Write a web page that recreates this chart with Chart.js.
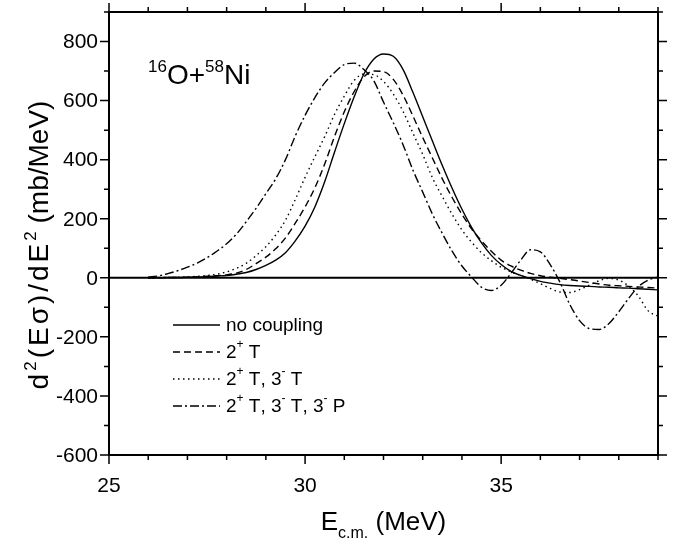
<!DOCTYPE html>
<html>
<head>
<meta charset="utf-8">
<script src="https://cdn.jsdelivr.net/npm/chart.js@4.4.0/dist/chart.umd.min.js"></script>
<style>
html,body{margin:0;padding:0;background:#fff;}
</style>
</head>
<body>
<canvas id="myChart" width="683" height="549"></canvas>
<script>
// E c.m. (MeV)
var energy=[26,26.25,26.5,26.75,27,27.25,27.5,27.75,28,28.25,28.5,28.75,29,29.25,29.5,29.75,
  30,30.25,30.5,30.75,31,31.25,31.5,31.75,32,32.25,32.5,32.75,33,33.25,33.5,33.75,
  34,34.25,34.5,34.75,35,35.25,35.5,35.75,36,36.25,36.5,36.75,37,37.25,37.5,37.75,
  38,38.25,38.5,38.75,39];

// d2(E sigma)/dE2 (mb/MeV)
var noCoupling=[0,0,1,1,2,3,4,6,8,12,18,28,42,60,85,125,
  175,240,325,425,522,612,690,740,758,750,705,628,545,462,380,303,
  232,170,118,76,45,22,8,-3,-12,-18,-23,-26,-28,-29,-31,-32,
  -34,-35,-37,-39,-41];
var twoPlusT=[0,0,1,1,2,3,5,7,10,16,28,48,70,98,135,185,
  240,305,385,478,562,630,680,700,698,672,618,548,475,405,335,272,
  215,165,125,90,60,40,26,15,7,2,-2,-6,-11,-16,-21,-25,
  -27,-29,-31,-33,-35];
var twoPlusThreeT=[0,1,1,2,3,5,8,12,20,32,49,75,105,145,195,265,
  340,410,478,553,615,668,690,688,665,622,563,490,418,338,275,215,
  162,120,85,58,36,20,8,-5,-20,-36,-48,-50,-40,-25,-10,-2,
  -8,-28,-62,-112,-130];
var twoPlusThreeTP=[3,6,14,24,36,50,68,90,115,148,190,235,285,335,400,480,
  550,610,660,695,722,727,705,668,595,525,450,365,290,215,150,90,
  40,2,-32,-43,-25,15,60,95,88,45,-15,-90,-145,-172,-175,-155,
  -115,-70,-30,-8,3];

var seriesNames=['no coupling','2+ T','2+ T, 3- T','2+ T, 3- T, 3- P'];
var xTickLabels=[25,30,35];
var yTickLabels=[-600,-400,-200,0,200,400,600,800];

var fontFam='"Liberation Sans", Arial, Helvetica, sans-serif';

function pts(ys){
  var out=[];
  for(var i=0;i<energy.length;i++) out.push({x:energy[i],y:ys[i]});
  return out;
}

// text with super/subscripts: runs of [text, kind, extraSpacing]
function runFont(r,size){
  return (r[1]=='sup'||r[1]=='sub')?Math.round(size*0.62):size;
}
function drawRuns(c,runs,x,y,size){
  var cx=x;
  for(var i=0;i<runs.length;i++){
    var r=runs[i],fs=runFont(r,size),dy=0,sp=r[2]||0;
    if(r[1]=='sup')dy=-size*0.42;
    if(r[1]=='sub')dy=size*0.3;
    c.font=fs+'px '+fontFam;
    for(var k=0;k<r[0].length;k++){
      c.fillText(r[0][k],cx,y+dy);
      cx+=c.measureText(r[0][k]).width+sp;
    }
  }
  return cx-x;
}
function runsWidth(c,runs,size){
  var w=0;
  for(var i=0;i<runs.length;i++){
    var r=runs[i];
    c.font=runFont(r,size)+'px '+fontFam;
    for(var k=0;k<r[0].length;k++) w+=c.measureText(r[0][k]).width+(r[2]||0);
  }
  return w;
}

var dashes=[[],[7,4],[1.5,3.5],[9,3,2,3]];
var legendRuns=[
  [['no coupling']],
  [['2'],['+','sup'],[' T']],
  [['2'],['+','sup'],[' T, 3'],['-','sup'],[' T']],
  [['2'],['+','sup'],[' T, 3'],['-','sup'],[' T, 3'],['-','sup'],[' P']]
];

var axesPlugin={
  id:'axesPlugin',
  beforeDatasetsDraw:function(chart){
    var c=chart.ctx,a=chart.chartArea,ys=chart.scales.y;
    var y0=ys.getPixelForValue(0);
    c.save();
    c.strokeStyle='#000';c.lineWidth=2;
    c.beginPath();c.moveTo(a.left,y0);c.lineTo(a.right,y0);c.stroke();
    c.restore();
  },
  afterDatasetsDraw:function(chart){
    var c=chart.ctx,a=chart.chartArea,xs=chart.scales.x,ys=chart.scales.y;
    c.save();
    c.strokeStyle='#000';c.fillStyle='#000';
    c.lineWidth=2;
    c.strokeRect(a.left,a.top,a.right-a.left,a.bottom-a.top);
    c.lineWidth=1.5;
    c.beginPath();
    for(var v=25;v<=39;v++){
      var px=xs.getPixelForValue(v),len=(v%5==0)?9:5;
      c.moveTo(px,a.bottom);c.lineTo(px,a.bottom+len);
      c.moveTo(px,a.top);c.lineTo(px,a.top-len);
    }
    for(var w=-600;w<=900;w+=100){
      var py=ys.getPixelForValue(w),l2=(w%200==0)?9:5;
      c.moveTo(a.left,py);c.lineTo(a.left-l2,py);
      c.moveTo(a.right,py);c.lineTo(a.right+l2,py);
    }
    c.stroke();

    // tick labels
    c.font='21px '+fontFam;
    c.textAlign='right';c.textBaseline='middle';
    yTickLabels.forEach(function(t){c.fillText(String(t),a.left-11,ys.getPixelForValue(t)+1);});
    c.textAlign='center';
    xTickLabels.forEach(function(t){c.fillText(String(t),xs.getPixelForValue(t),a.bottom+31);});

    // x title
    c.textAlign='left';c.textBaseline='alphabetic';
    var xr=[['E'],['c.m.','sub'],[' (MeV)']];
    var xw=runsWidth(c,xr,26);
    drawRuns(c,xr,(a.left+a.right)/2-xw/2,530,26);

    // y title
    var yr=[['d',0,3],['2','sup',3],['(E\u03c3)/dE',0,3],['2','sup',0],[' (mb/MeV)',0,0]];
    var yw=runsWidth(c,yr,28);
    c.save();
    c.translate(48,245);c.rotate(-Math.PI/2);
    drawRuns(c,yr,-yw/2,0,28);
    c.restore();

    // reaction label
    drawRuns(c,[['16','sup'],['O+'],['58','sup'],['Ni']],148,84,28);

    // legend
    var rows=[325,352,379,406];
    for(var i=0;i<rows.length;i++){
      c.setLineDash(dashes[i]);c.lineWidth=1.4;
      c.beginPath();c.moveTo(173,rows[i]);c.lineTo(220,rows[i]);c.stroke();
      c.setLineDash([]);
      c.textBaseline='middle';
      drawRuns(c,legendRuns[i],226,rows[i]+1,19);
    }
    c.restore();
  }
};

var ctx=document.getElementById('myChart').getContext('2d');
var myChart=new Chart(ctx,{
  type:'line',
  data:{
    datasets:[
      {label:seriesNames[0],data:pts(noCoupling),borderColor:'#000',borderDash:dashes[0]},
      {label:seriesNames[1],data:pts(twoPlusT),borderColor:'#000',borderDash:dashes[1]},
      {label:seriesNames[2],data:pts(twoPlusThreeT),borderColor:'#000',borderDash:dashes[2]},
      {label:seriesNames[3],data:pts(twoPlusThreeTP),borderColor:'#000',borderDash:dashes[3]}
    ]
  },
  options:{
    responsive:false,
    animation:false,
    devicePixelRatio:1,
    layout:{padding:{left:109,top:12,right:25,bottom:94}},
    elements:{
      point:{radius:0},
      line:{borderWidth:1.4,cubicInterpolationMode:'monotone',fill:false}
    },
    plugins:{legend:{display:false},tooltip:{enabled:false}},
    scales:{
      x:{type:'linear',min:25,max:39,display:false},
      y:{type:'linear',min:-600,max:900,display:false}
    }
  },
  plugins:[axesPlugin]
});
</script>
</body>
</html>
